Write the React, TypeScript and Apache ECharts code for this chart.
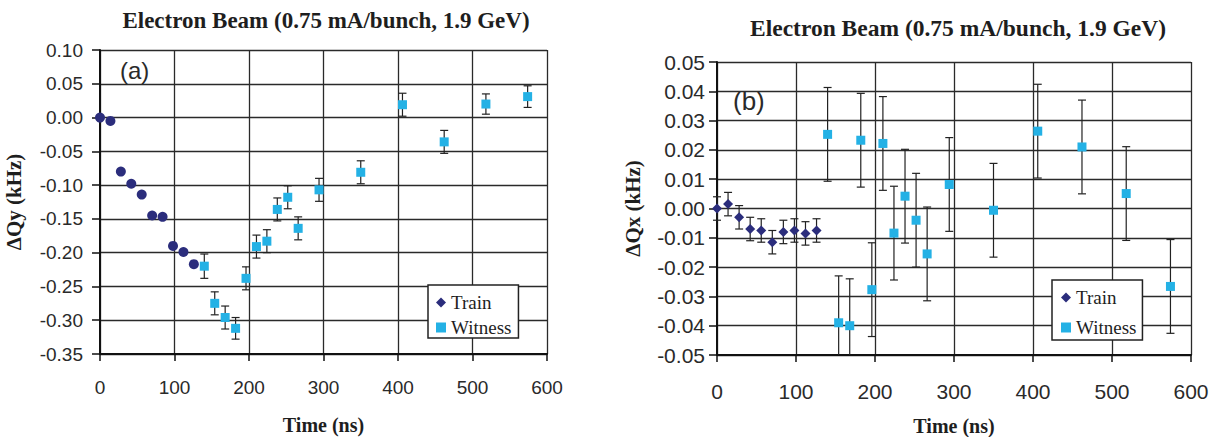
import React, { useEffect, useRef } from 'react';
import * as echarts from 'echarts';

// ---- Data ----
const trainTime = [0, 14, 28, 42, 56, 70, 84, 98, 112, 126];
const witnessTime = [140, 154, 168, 182, 196, 210, 224, 238, 252, 266, 294, 350, 406, 462, 518, 574];

// (a) vertical tune shift
const trainQy = [0.0, -0.005, -0.08, -0.098, -0.114, -0.145, -0.147, -0.19, -0.199, -0.217];
const witnessQy = [-0.22, -0.275, -0.296, -0.312, -0.238, -0.191, -0.183, -0.136, -0.118, -0.164, -0.107, -0.081, 0.019, -0.036, 0.02, 0.031];
const witnessQyErr = [0.018, 0.017, 0.017, 0.016, 0.017, 0.017, 0.017, 0.017, 0.017, 0.017, 0.017, 0.017, 0.017, 0.017, 0.015, 0.016];

// (b) horizontal tune shift
const trainQx = [0.0, 0.0015, -0.003, -0.007, -0.0075, -0.0115, -0.008, -0.0075, -0.0085, -0.0075];
const trainQxErr = [0.004, 0.004, 0.004, 0.004, 0.004, 0.004, 0.004, 0.004, 0.004, 0.004];
const witnessQx = [0.0253, -0.039, -0.04, 0.0233, -0.0277, 0.0222, -0.0084, 0.0042, -0.004, -0.0155, 0.0082, -0.0006, 0.0264, 0.021, 0.0051, -0.0266];
const witnessQxErr = [0.016, 0.016, 0.016, 0.016, 0.016, 0.016, 0.016, 0.016, 0.016, 0.016, 0.016, 0.016, 0.016, 0.016, 0.016, 0.016];

const titleText = 'Electron Beam (0.75 mA/bunch, 1.9 GeV)';
const xName = 'Time (ns)';
const yNameA = 'ΔQy (kHz)';
const yNameB = 'ΔQx (kHz)';
const legendNames = ['Train', 'Witness'];

const TRAIN_COLOR = '#2b2d7c';
const WITNESS_COLOR = '#24b1e5';
const SERIF = 'Liberation Serif';
const SANS = 'Liberation Sans';
const INK = '#1e1e1e';

function errorBars(
  xAxisIndex: number,
  times: number[],
  vals: number[],
  errs: number[],
  yMin: number,
  yMax: number
) {
  return {
    type: 'custom',
    name: 'err' + xAxisIndex,
    xAxisIndex,
    yAxisIndex: xAxisIndex,
    silent: true,
    z: 1,
    data: times.map((t, i) => [t, vals[i] - errs[i], vals[i] + errs[i]]),
    encode: { x: 0, y: [1, 2] },
    renderItem: (params: any, api: any) => {
      const x = api.value(0);
      const loV = api.value(1);
      const hiV = api.value(2);
      const lo = api.coord([x, Math.max(loV, yMin)]);
      const hi = api.coord([x, Math.min(hiV, yMax)]);
      const w = 4;
      const style = { stroke: '#222', lineWidth: 1.2, fill: null };
      const children: any[] = [
        { type: 'line', shape: { x1: hi[0], y1: hi[1], x2: lo[0], y2: lo[1] }, style },
      ];
      if (hiV <= yMax) children.push({ type: 'line', shape: { x1: hi[0] - w, y1: hi[1], x2: hi[0] + w, y2: hi[1] }, style });
      if (loV >= yMin) children.push({ type: 'line', shape: { x1: lo[0] - w, y1: lo[1], x2: lo[0] + w, y2: lo[1] }, style });
      return { type: 'group', children };
    },
  };
}

function xAxisCfg(gridIndex: number, labelSize: number, labelMargin: number, nameGap: number) {
  return {
    type: 'value',
    gridIndex,
    min: 0,
    max: 600,
    interval: 100,
    name: xName,
    nameLocation: 'middle',
    nameGap,
    nameTextStyle: { fontFamily: SERIF, fontWeight: 'bold', fontSize: 20, color: INK },
    axisLine: { onZero: false, lineStyle: { color: '#111', width: 2 } },
    axisTick: { show: true, inside: false, length: 7, lineStyle: { color: '#111', width: 1.5 } },
    axisLabel: { fontFamily: SANS, fontSize: labelSize, color: '#2a2a2a', margin: labelMargin },
    splitLine: { show: true, lineStyle: { color: '#2a2a2a', width: 1.3 } },
  };
}

function yAxisCfg(
  gridIndex: number,
  min: number,
  max: number,
  interval: number,
  name: string,
  labelSize: number,
  labelMargin: number,
  nameGap: number
) {
  return {
    type: 'value',
    gridIndex,
    min,
    max,
    interval,
    name,
    nameLocation: 'middle',
    nameGap,
    nameTextStyle: { fontFamily: SERIF, fontWeight: 'bold', fontSize: 21, color: INK },
    axisLine: { onZero: false, lineStyle: { color: '#111', width: 2 } },
    axisTick: { show: true, inside: false, length: 8, lineStyle: { color: '#111', width: 1.5 } },
    axisLabel: {
      fontFamily: SANS,
      fontSize: labelSize,
      color: '#2a2a2a',
      margin: labelMargin,
      formatter: (v: number) => v.toFixed(2),
    },
    splitLine: { show: true, lineStyle: { color: '#2a2a2a', width: 1.3 } },
  };
}

function legendCfg(left: number, top: number, padding: number[], itemGap: number) {
  return {
    orient: 'vertical',
    left,
    top,
    padding,
    itemGap,
    itemWidth: 10,
    itemHeight: 10,
    itemStyle: { borderWidth: 0 },
    backgroundColor: '#fff',
    borderColor: '#222',
    borderWidth: 1.5,
    borderRadius: 0,
    selectedMode: false,
    textStyle: { fontFamily: SERIF, fontSize: 19, color: INK },
    data: [
      { name: legendNames[0], icon: 'diamond' },
      { name: legendNames[1], icon: 'rect' },
    ],
  };
}

export default function App() {
  const ref = useRef<HTMLDivElement>(null);

  useEffect(() => {
    document.body.style.margin = '0';
    if (!ref.current) return;
    const chart = echarts.init(ref.current, null, { renderer: 'svg' });

    const option: any = {
      animation: false,
      backgroundColor: '#fff',
      title: [
        {
          text: titleText,
          left: 321,
          top: 4,
          textAlign: 'center',
          textStyle: { fontFamily: SERIF, fontWeight: 'bold', fontSize: 23, color: INK },
        },
        {
          text: titleText,
          left: 953,
          top: 11,
          textAlign: 'center',
          textStyle: { fontFamily: SERIF, fontWeight: 'bold', fontSize: 23.5, color: INK },
        },
      ],
      grid: [
        { left: 100, top: 50, width: 447, height: 304, containLabel: false, outerBoundsMode: 'none' },
        { left: 717, top: 62, width: 474, height: 293, containLabel: false, outerBoundsMode: 'none' },
      ],
      xAxis: [xAxisCfg(0, 19, 24, 61), xAxisCfg(1, 21, 26, 61)],
      yAxis: [
        yAxisCfg(0, -0.35, 0.1, 0.05, yNameA, 19, 17, 76),
        yAxisCfg(1, -0.05, 0.05, 0.01, yNameB, 21, 12, 74),
      ],
      legend: [legendCfg(428, 285, [8, 7, 1, 8], 6), legendCfg(1052, 280, [8, 6, 3, 9], 11)],
      graphic: [
        {
          type: 'text',
          left: 120,
          top: 58,
          style: { text: '(a)', fontSize: 24, fontFamily: SANS, fill: '#2a2a2a' },
        },
        {
          type: 'text',
          left: 733,
          top: 88,
          style: { text: '(b)', fontSize: 26, fontFamily: SANS, fill: '#2a2a2a' },
        },
      ],
      series: [
        errorBars(0, witnessTime, witnessQy, witnessQyErr, -0.35, 0.1),
        {
          type: 'scatter',
          name: legendNames[0],
          xAxisIndex: 0,
          yAxisIndex: 0,
          symbol: 'circle',
          symbolSize: 10,
          itemStyle: { color: TRAIN_COLOR, opacity: 1 },
          z: 3,
          data: trainTime.map((t, i) => [t, trainQy[i]]),
        },
        {
          type: 'scatter',
          name: legendNames[1],
          xAxisIndex: 0,
          yAxisIndex: 0,
          symbol: 'rect',
          symbolSize: 9,
          itemStyle: { color: WITNESS_COLOR, opacity: 1 },
          z: 3,
          data: witnessTime.map((t, i) => [t, witnessQy[i]]),
        },
        errorBars(1, trainTime, trainQx, trainQxErr, -0.05, 0.05),
        errorBars(1, witnessTime, witnessQx, witnessQxErr, -0.05, 0.05),
        {
          type: 'scatter',
          name: legendNames[0],
          xAxisIndex: 1,
          yAxisIndex: 1,
          symbol: 'diamond',
          symbolSize: 10,
          itemStyle: { color: TRAIN_COLOR, opacity: 1 },
          z: 3,
          data: trainTime.map((t, i) => [t, trainQx[i]]),
        },
        {
          type: 'scatter',
          name: legendNames[1],
          xAxisIndex: 1,
          yAxisIndex: 1,
          symbol: 'rect',
          symbolSize: 9,
          itemStyle: { color: WITNESS_COLOR, opacity: 1 },
          z: 3,
          data: witnessTime.map((t, i) => [t, witnessQx[i]]),
        },
      ],
    };

    chart.setOption(option);
    return () => chart.dispose();
  }, []);

  return <div ref={ref} style={{ width: 1213, height: 437 }} />;
}
